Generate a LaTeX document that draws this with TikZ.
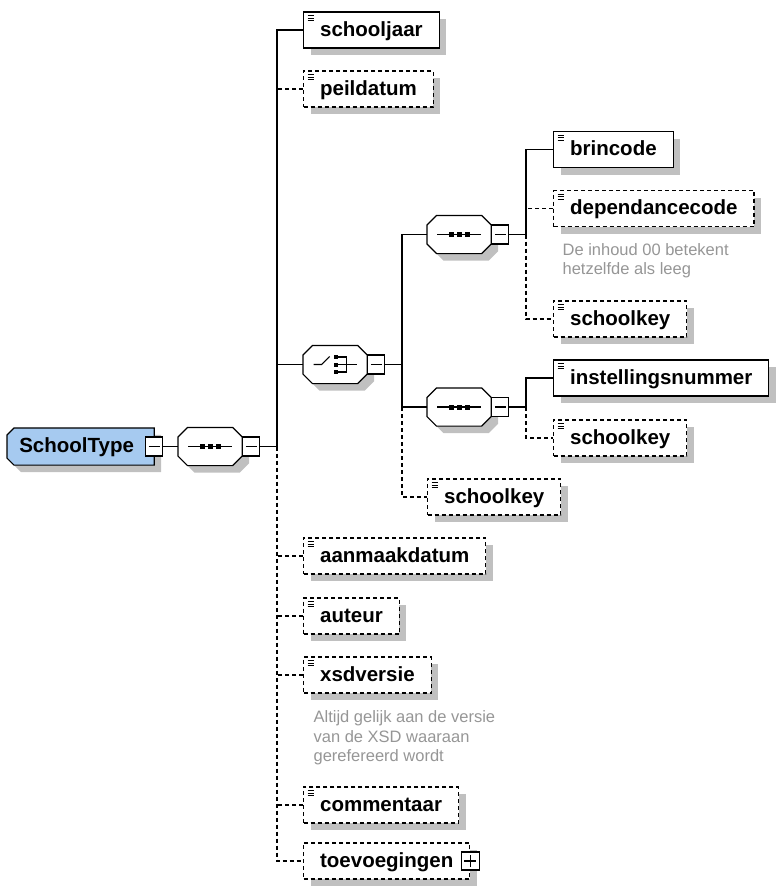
\documentclass[tikz,border=0pt]{standalone}
\usepackage{fontspec}
\setmainfont{Liberation Sans}
\usetikzlibrary{calc,shadows}
\definecolor{TypeClr}{RGB}{166,202,240}
\definecolor{ShadowClr}{RGB}{192,192,192}
\definecolor{NoteClr}{RGB}{150,150,150}

\tikzset{
  grayshadow/.style={general shadow={fill=ShadowClr,shadow xshift=7pt,shadow yshift=-7pt}},
  optline/.style={dash pattern=on 4pt off 3pt},
  elem/.style={draw,fill=white,anchor=west,inner xsep=16.5pt,inner ysep=0pt,
    minimum height=36pt,text height=14.5pt,text depth=2.5pt,
    font=\fontsize{20.5}{24}\selectfont\bfseries,grayshadow},
  elemicon/.style={path picture={
    \foreach \d in {3.5,6,8.5}
      \draw[solid,line width=1pt] ([shift={(4pt,-\d pt)}]path picture bounding box.north west) -- ++(6pt,0pt);}},
  reqelem/.style={elem,elemicon},
  optelem/.style={elem,elemicon,optline},
  compositor/.style={minimum width=63pt,minimum height=37pt,inner sep=0pt,anchor=west},
  minusbox/.style={draw,fill=white,solid,minimum width=17pt,minimum height=19pt,inner sep=0pt,anchor=west,
    path picture={\draw ([xshift=3pt]path picture bounding box.west) -- ([xshift=-3pt]path picture bounding box.east);}},
  plusbox/.style={draw,fill=white,solid,minimum width=18pt,minimum height=18pt,inner sep=0pt,
    path picture={\draw ([xshift=3pt]path picture bounding box.west) -- ([xshift=-3pt]path picture bounding box.east);
      \draw ([yshift=3pt]path picture bounding box.south) -- ([yshift=-3pt]path picture bounding box.north);}},
  note/.style={anchor=north west,inner sep=0pt,align=left,text=NoteClr,
    font=\fontsize{16.5}{19.5}\selectfont},
  castshadow/.style={fill=ShadowClr,transform canvas={shift={(7pt,-7pt)}}}
}

% outlines round a compositor node and the type node
\newcommand{\octpath}[1]{($(#1.north west)+(9.5,0)$) -- ($(#1.north east)+(-9.5,0)$)
  -- ($(#1.north east)+(0,9.5)$) -- ($(#1.south east)+(0,-9.5)$) -- ($(#1.south east)+(-9.5,0)$)
  -- ($(#1.south west)+(9.5,0)$) -- ($(#1.south west)+(0,-9.5)$) -- ($(#1.north west)+(0,9.5)$) -- cycle}
\newcommand{\typepath}[1]{($(#1.north west)+(7,0)$) -- (#1.north east) -- (#1.south east)
  -- ($(#1.south west)+(7,0)$) -- ($(#1.south west)+(0,-7)$) -- ($(#1.north west)+(0,7)$) -- cycle}
\newcommand{\octagon}[1]{%
  \path[castshadow] \octpath{#1};
  \draw[fill=white] \octpath{#1};}

% sequence and choice marks inside a compositor
\newcommand{\seqsym}[1]{%
  \draw ($(#1.center)+(-22,0)$) -- ($(#1.center)+(22,0)$);
  \foreach \dx in {-8,0,8}
    \fill ($(#1.center)+(\dx-2.5,-2.5)$) rectangle ++(5,5);}
\newcommand{\choicesym}[1]{%
  \draw ($(#1.center)+(-21.5,0)$) -- ++(8,0) -- ++(8,-8);
  \foreach \dy in {-7.5,0,7.5}
    \fill ($(#1.center)+(-1.5,\dy-2)$) rectangle ++(4,4);
  \draw ($(#1.center)+(2.5,-7.5)$) -- ++(9,0) -- ++(0,15) -- ++(-9,0);
  \draw ($(#1.center)+(2.5,0)$) -- ++(19,0);}

\begin{document}
\begin{tikzpicture}[x=1pt,y=-1pt,line width=1.2pt]
\useasboundingbox (0,0) rectangle (776,886);

\node[anchor=west,minimum width=146pt,minimum height=36pt,inner sep=0pt,
  text height=14.5pt,text depth=2.5pt,font=\fontsize{20.5}{24}\selectfont\bfseries]
  (schooltype) at (7,446.5) {};
\path[castshadow] \typepath{schooltype};
\draw[fill=TypeClr] \typepath{schooltype};
\node[font=\fontsize{20.5}{24}\selectfont\bfseries,text height=14.5pt,text depth=2.5pt,inner sep=0pt]
  (schooltype-t) at ($(schooltype.center)+(-4,0)$) {SchoolType};
\node[minusbox,anchor=center] (schooltype-m) at (schooltype.east) {};

\node[compositor] (seqmain) at (178,446.5) {};
\octagon{seqmain}
\node[minusbox] (seqmain-m) at (seqmain.east) {};
\seqsym{seqmain}

\node[reqelem] (schooljaar) at (303,30) {schooljaar};
\node[optelem] (peildatum) at (303,89) {peildatum};

\node[compositor] (choice) at (303,364.5) {};
\octagon{choice}
\node[minusbox] (choice-m) at (choice.east) {};
\choicesym{choice}

\node[compositor] (seqA) at (427,234.5) {};
\octagon{seqA}
\node[minusbox] (seqA-m) at (seqA.east) {};
\seqsym{seqA}
\node[reqelem] (brincode) at (553,149.5) {brincode};
\node[optelem] (dependancecode) at (553,208.5) {dependancecode};
\node[note] (depnote) at (562,242.5) {De inhoud 00 betekent\\hetzelfde als leeg};
\node[optelem] (schoolkeyA) at (553,319) {schoolkey};

\node[compositor] (seqB) at (427,407) {};
\octagon{seqB}
\node[minusbox] (seqB-m) at (seqB.east) {};
\seqsym{seqB}
\node[reqelem] (instellingsnummer) at (553,378) {instellingsnummer};
\node[optelem] (schoolkeyB) at (553,438) {schoolkey};

\node[optelem] (schoolkeyC) at (427,497) {schoolkey};

\node[optelem] (aanmaakdatum) at (303,556) {aanmaakdatum};
\node[optelem] (auteur) at (303,616) {auteur};
\node[optelem] (xsdversie) at (303,675) {xsdversie};
\node[note] (xsdnote) at (313,710) {Altijd gelijk aan de versie\\van de XSD waaraan\\gerefereerd wordt};
\node[optelem] (commentaar) at (303,805) {commentaar};
\node[elem,optline] (toevoegingen) at (303,861) {toevoegingen\hspace{7pt}};
\node[plusbox] (toevoegingen-p) at (toevoegingen.east) {};

\coordinate (mbar) at (277,446.5);
\coordinate (cbar) at (402,364.5);
\coordinate (abar) at (526,234.5);
\coordinate (bbar) at (526,407);

\draw (schooltype-m.east) -- (seqmain.west);
\draw (seqmain-m.east) -- (mbar);
\draw (schooljaar.west) -| (mbar);
\draw (choice.west) -| (mbar);
\draw[optline] (mbar) |- (toevoegingen.west);
\foreach \n in {peildatum,aanmaakdatum,auteur,xsdversie,commentaar}
  \draw[optline] (\n.west) -- (\n.west -| mbar);

\draw (choice-m.east) -- (cbar);
\draw (seqA.west) -| (cbar);
\draw (seqB.west) -| (cbar);
\draw[optline] (seqB.west -| cbar) |- (schoolkeyC.west);

\draw (seqA-m.east) -- (abar);
\draw (brincode.west) -| (abar);
\draw[optline] (abar) |- (schoolkeyA.west);
\draw[optline] (dependancecode.west) -- (dependancecode.west -| abar);

\draw (seqB-m.east) -- (bbar);
\draw (instellingsnummer.west) -| (bbar);
\draw[optline] (bbar) |- (schoolkeyB.west);

\end{tikzpicture}
\end{document}
